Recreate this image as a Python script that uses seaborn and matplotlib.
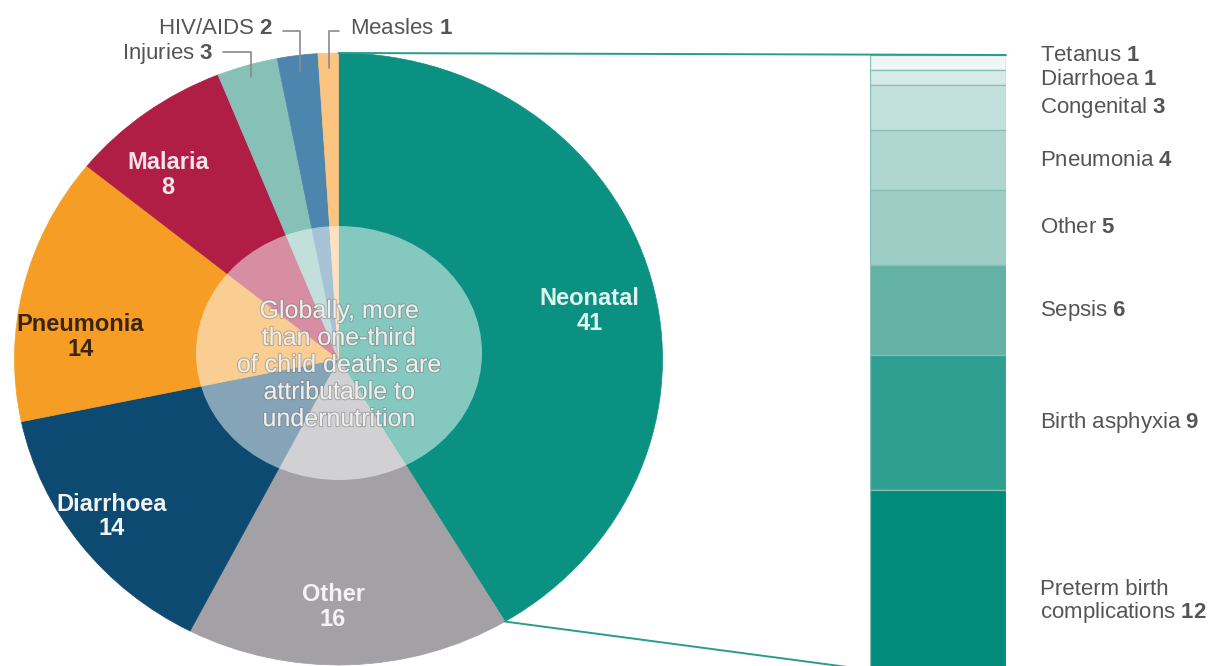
import numpy as np
import matplotlib
matplotlib.use("Agg")
import matplotlib.pyplot as plt
import matplotlib.patheffects as pe
from matplotlib.patches import Ellipse, ConnectionPatch
import seaborn as sns

# ---------------- data ----------------
causes = ["Neonatal", "Other", "Diarrhoea", "Pneumonia", "Malaria", "Injuries", "HIV/AIDS", "Measles"]
cause_values = [41, 16, 14, 14, 8, 3, 2, 1]
cause_colors = ["#0b9181", "#a3a1a6", "#0d4a72", "#f59d25", "#b01d45", "#86c0b7", "#4c85ae", "#fcc481"]

neonatal_causes = ["Tetanus", "Diarrhoea", "Congenital", "Pneumonia", "Other", "Sepsis",
                   "Birth asphyxia", "Preterm birth\ncomplications"]
neonatal_values = [1, 1, 3, 4, 5, 6, 9, 12]
neonatal_colors = ["#eef7f5", "#d6ebe7", "#c3e1dc", "#afd6d0", "#9dcdc5", "#64b1a6", "#2f9f91", "#008c7a"]

center_note = "Globally, more\nthan one-third\nof child deaths are\nattributable to\nundernutrition"

# ---------------- style ----------------
sns.set_theme(style="white")
plt.rcParams["font.family"] = ["Liberation Sans", "DejaVu Sans"]
plt.rcParams["mathtext.fontset"] = "custom"
plt.rcParams["mathtext.rm"] = "Liberation Sans"
plt.rcParams["mathtext.bf"] = "Liberation Sans:bold"

W, H = 1227, 666
fig = plt.figure(figsize=(W / 100, H / 100), dpi=100)
fig.patch.set_facecolor("white")

# ---------------- pie (slightly elliptical, as in the reference) ----------------
pcx, pcy, prx, pry = 338.5, 359, 324, 306
pie_ax = fig.add_axes([(pcx - prx) / W, 1 - (pcy + pry) / H, 2 * prx / W, 2 * pry / H])
wedges, _ = pie_ax.pie(cause_values, colors=cause_colors, startangle=90, counterclock=False,
                       radius=1, wedgeprops=dict(linewidth=0.5))
for w, c in zip(wedges, cause_colors):
    w.set_edgecolor(c)
pie_ax.set_aspect("auto")
pie_ax.set_xlim(-1, 1)
pie_ax.set_ylim(-1, 1)
pie_ax.axis("off")

inner_r = [0.79, 0.81, 0.87, 0.80, 0.80]
inner_dtheta = [-4, -3, -1, 8.4, 4.8]
inner_colors = ["#dff4f0", "#f4f4f4", "#f2f2f2", "#3b2410", "#f7e4e8"]
for w, name, val, r, dt, c in zip(wedges[:5], causes[:5], cause_values[:5], inner_r, inner_dtheta, inner_colors):
    th = np.deg2rad((w.theta1 + w.theta2) / 2 + dt)
    pie_ax.text(r * np.cos(th), r * np.sin(th), f"{name}\n{val}", ha="center", va="center",
                fontsize=17, fontweight="bold", color=c, linespacing=1.1)

# ---------------- stacked neonatal bar ----------------
bar_ax = fig.add_axes([870 / W, 1 - 670 / H, 136 / W, 615 / H])
bottoms = np.cumsum([0] + neonatal_values[:-1])
for name, val, bot, col in zip(neonatal_causes, neonatal_values, bottoms, neonatal_colors):
    sns.barplot(x=["Neonatal"], y=[val], bottom=bot, color=col, saturation=1, width=1.0,
                errorbar=None, ax=bar_ax, edgecolor="#86bfb6", linewidth=0.9)
bar_ax.set_xlim(-0.5, 0.5)
bar_ax.set_ylim(sum(neonatal_values), 0)
bar_ax.axis("off")

label_dy = [7, -2, 0, 0, 0, 0, 0, -22]
for name, val, bot, dy in zip(neonatal_causes, neonatal_values, bottoms, label_dy):
    bar_ax.annotate(f"{name} $\\mathbf{{{val}}}$", xy=(0.5, bot + val / 2), xycoords="data",
                    xytext=(34, dy), textcoords="offset pixels", ha="left", va="center",
                    fontsize=16, color="#555555", annotation_clip=False, linespacing=1.0)

# ---------------- overlay (pixel coordinates) ----------------
ov = fig.add_axes([0, 0, 1, 1])
ov.set_xlim(0, W)
ov.set_ylim(H, 0)
ov.axis("off")
ov.patch.set_alpha(0)

ov.add_patch(Ellipse((339, 353), 286, 254, facecolor="white", alpha=0.5, edgecolor="none"))
ov.text(339, 365, center_note, ha="center", va="center", fontsize=18, color="#eeeeee",
        linespacing=1.16,
        path_effects=[pe.withStroke(linewidth=1.5, foreground=(0.45, 0.45, 0.45, 0.45))])


def to_ov(ax, pt):
    return ov.transData.inverted().transform(ax.transData.transform(pt))


def wedge_pt(w, r):
    th = np.deg2rad((w.theta1 + w.theta2) / 2)
    return r * np.cos(th), r * np.sin(th)


lead_col = "#8a8a8a"
# Injuries
ax_, ay_ = to_ov(pie_ax, wedge_pt(wedges[5], 0.96))
ov.plot([223, ax_, ax_], [52, 52, ay_], color=lead_col, lw=1.2)
ov.text(214, 53, f"{causes[5]} $\\mathbf{{{cause_values[5]}}}$", ha="right", va="center",
        fontsize=16, color="#555555")
# HIV/AIDS
ax_, ay_ = to_ov(pie_ax, wedge_pt(wedges[6], 0.95))
ov.plot([283, ax_, ax_], [31, 31, ay_], color=lead_col, lw=1.2)
ov.text(273, 28, f"{causes[6]} $\\mathbf{{{cause_values[6]}}}$", ha="right", va="center",
        fontsize=16, color="#555555")
# Measles
ax_, ay_ = to_ov(pie_ax, wedge_pt(wedges[7], 0.95))
ov.plot([ax_, ax_, 339], [ay_, 31, 31], color=lead_col, lw=1.2)
ov.text(350, 28, f"{causes[7]} $\\mathbf{{{cause_values[7]}}}$", ha="left", va="center",
        fontsize=16, color="#555555")

# connectors between the Neonatal slice and the bar
nw = wedges[0]
top_pt = (np.cos(np.deg2rad(nw.theta2)), np.sin(np.deg2rad(nw.theta2)))
end_pt = (np.cos(np.deg2rad(nw.theta1)), np.sin(np.deg2rad(nw.theta1)))
con_col = "#2a9c8c"
fig.add_artist(ConnectionPatch(xyA=top_pt, coordsA=pie_ax.transData,
                               xyB=(0.5, 0), coordsB=bar_ax.transData, color=con_col, lw=1.4))
fig.add_artist(ConnectionPatch(xyA=end_pt, coordsA=pie_ax.transData,
                               xyB=(-0.5, sum(neonatal_values)), coordsB=bar_ax.transData,
                               color=con_col, lw=1.4))

fig.savefig("out.png", dpi=100, facecolor="white")
